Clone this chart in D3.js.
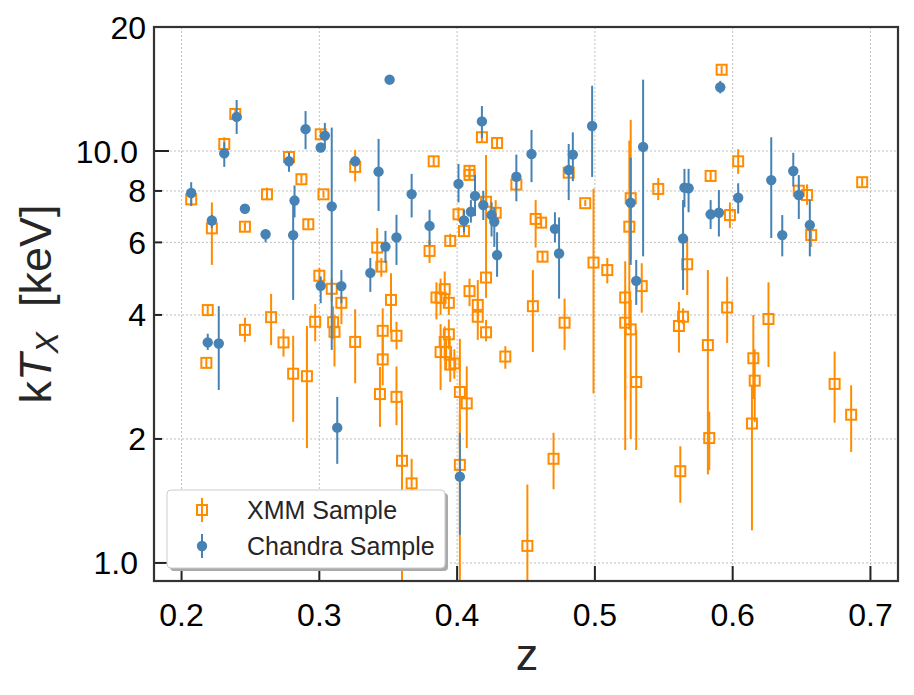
<!DOCTYPE html>
<html><head><meta charset="utf-8">
<script src="https://cdn.jsdelivr.net/npm/d3@7"></script>
<style>body{margin:0;background:#fff;} svg{display:block;font-family:"Liberation Sans",Arial,sans-serif;}</style>
</head><body><svg id="c" width="914" height="695"></svg>
<script>
// XMM sample (orange squares): redshift, kT, error-bar low, error-bar high
const xmmZ  = [0.239,0.231,0.301,0.278,0.287,0.326,0.207,0.262,0.303,0.222,0.246,0.292,0.342,0.345,0.300,0.309,0.310,0.311,0.316,0.352,0.219,0.218,0.246,0.265,0.274,0.281,0.291,0.297,0.326,0.346,0.346,0.344,0.356,0.356,0.360,0.367,0.383,0.380,0.395,0.385,0.388,0.391,0.394,0.394,0.391,0.388,0.392,0.395,0.398,0.402,0.402,0.407,0.401,0.405,0.409,0.409,0.409,0.421,0.415,0.415,0.421,0.418,0.429,0.421,0.428,0.435,0.443,0.451,0.455,0.457,0.461,0.462,0.470,0.478,0.481,0.493,0.499,0.509,0.526,0.525,0.522,0.522,0.526,0.530,0.534,0.546,0.567,0.561,0.564,0.562,0.584,0.583,0.582,0.598,0.596,0.604,0.592,0.615,0.616,0.614,0.626,0.654,0.657,0.648,0.674,0.686,0.694];
const xmmT  = [12.3,10.4,10.98,9.67,8.54,9.15,7.63,7.85,7.85,6.49,6.55,6.64,5.83,5.24,4.98,4.63,3.84,3.64,4.28,4.35,4.11,3.06,3.68,3.95,3.43,2.88,2.84,3.85,3.44,3.66,3.12,2.57,2.53,3.56,1.77,1.56,9.44,5.72,6.05,4.41,4.40,4.62,4.28,3.59,3.44,3.25,3.25,3.03,3.05,2.6,1.73,2.44,7.02,6.39,8.95,8.75,4.57,4.93,4.23,3.96,3.63,10.8,10.46,7.53,7.08,3.17,8.29,1.10,4.2,6.84,6.7,5.54,1.79,3.83,8.86,7.47,5.36,5.14,7.68,6.55,4.41,3.83,3.69,2.75,4.7,8.09,5.31,3.76,3.96,1.67,8.7,2.01,3.38,6.99,4.17,9.44,15.75,3.14,2.77,2.18,3.91,7.82,6.25,8.01,2.72,2.29,8.4];
const xmmLo = [11.9,10.05,10.7,9.4,8.35,8.43,7.4,7.6,7.7,5.29,6.4,6.5,5.1,4.95,4.73,4.3,3.5,3.0,3.8,3.62,3.97,2.98,3.44,3.38,3.17,2.2,1.9,3.45,2.73,3.11,2.7,2.14,2.16,3.3,0.85,1.34,9.2,5.35,5.85,3.9,4.0,4.2,4.0,3.3,3.1,2.63,2.95,2.75,2.8,1.9,0.85,1.9,6.75,6.2,8.5,8.5,4.2,4.4,3.9,3.48,3.45,10.5,10.2,5.44,6.55,2.96,8.1,0.85,3.25,5.83,6.5,5.4,1.51,3.29,8.65,7.35,2.58,4.77,5.44,3.68,1.88,2.49,2.0,1.88,4.05,7.6,4.47,3.24,3.8,1.4,8.5,1.68,1.64,6.5,3.42,8.8,15.4,2.5,2.2,1.2,2.99,7.4,5.85,7.8,2.19,1.86,8.2];
const xmmHi = [12.7,10.8,11.3,9.95,8.75,10.06,7.82,8.15,8.0,7.5,6.7,6.8,6.5,5.5,5.2,4.9,4.2,4.0,4.45,5.05,4.23,3.14,3.94,4.5,3.7,3.56,3.76,4.25,4.13,4.15,3.52,2.99,3.0,3.85,2.49,1.79,9.7,6.08,6.3,4.8,4.9,5.1,4.5,3.9,3.75,3.8,3.5,3.3,3.3,3.5,2.3,3.0,7.3,6.6,9.25,9.0,4.9,5.44,4.86,4.3,3.89,11.1,10.7,9.78,7.6,3.36,8.5,1.55,5.14,7.6,6.9,5.7,2.07,4.38,9.05,7.6,8.1,5.5,11.9,10.6,5.4,4.6,4.35,3.68,5.34,8.6,6.08,4.3,4.15,1.92,8.9,2.33,5.14,7.5,4.95,10.1,16.1,4.0,3.3,2.7,4.8,8.3,6.43,8.2,3.26,2.7,8.6];

// Chandra sample (blue circles)
const chaZ  = [0.351,0.240,0.231,0.290,0.304,0.301,0.278,0.309,0.326,0.343,0.207,0.282,0.281,0.246,0.222,0.261,0.348,0.356,0.301,0.316,0.337,0.219,0.227,0.313,0.402,0.367,0.401,0.418,0.413,0.410,0.419,0.425,0.427,0.429,0.405,0.380,0.443,0.454,0.481,0.484,0.498,0.471,0.474,0.526,0.530,0.535,0.565,0.568,0.564,0.584,0.590,0.591,0.604,0.628,0.636,0.644,0.648,0.656];
const chaT  = [14.9,12.1,9.87,11.3,10.9,10.2,9.44,7.34,9.44,8.91,7.91,7.58,6.25,7.24,6.78,6.28,5.86,6.17,4.71,4.7,5.06,3.43,3.41,2.13,1.62,7.86,8.32,11.8,7.78,7.12,7.39,6.99,6.74,5.59,6.78,6.58,8.66,9.83,8.99,9.8,11.5,6.47,5.64,7.49,4.84,10.23,8.15,8.12,6.13,7.02,7.08,14.28,7.7,8.5,6.25,8.94,7.82,6.61];
const chaLo = [14.5,11.0,9.15,10.1,10.2,10.0,8.9,3.29,9.2,7.15,7.35,6.9,4.35,7.1,6.5,6.0,5.35,5.29,4.27,4.27,4.55,3.29,2.63,1.74,1.17,6.9,7.5,10.75,6.95,6.7,6.8,6.2,5.85,4.95,6.35,5.9,7.55,8.4,7.6,8.45,8.65,6.0,4.38,5.29,4.23,5.55,7.3,7.1,4.6,6.47,6.2,13.8,7.05,6.15,5.55,8.2,6.84,5.55];
const chaHi = [15.3,13.3,10.5,12.5,11.7,10.4,9.9,11.4,9.65,10.7,8.4,8.25,7.6,7.4,7.0,6.45,6.4,7.0,4.96,5.14,5.5,3.6,4.2,2.53,2.07,8.8,9.3,12.86,8.75,7.6,8.0,7.5,7.3,6.35,7.2,7.2,9.8,11.25,10.4,11.1,14.4,7.1,6.9,9.63,5.44,14.9,9.05,9.05,7.6,7.6,8.04,14.8,8.35,10.8,6.99,9.9,8.74,7.6];

const xTicks = [0.2,0.3,0.4,0.5,0.6,0.7];
const yMajorTicks = [1, 10];
const yMajorLabels = ["1.0","10.0"];
const yMinorTicks = [2,4,6,8,20];
const yMinorLabels = ["2","4","6","8","20"];
const seriesNames = ["XMM Sample","Chandra Sample"];

const ORANGE = "#ff8c00", BLUE = "#4682b4";
const L = 154, R = 898, T = 27, B = 581;
const svg = d3.select("#c");
const x = d3.scaleLinear().domain([0.18, 0.72]).range([L, R]);
const y = d3.scaleLog().domain([0.904, 20]).range([B, T]);

svg.append("defs").append("clipPath").attr("id","clip")
  .append("rect").attr("x",L).attr("y",T).attr("width",R-L).attr("height",B-T);

// grid
const grid = svg.append("g").attr("stroke","#b0b0b0").attr("stroke-width",0.8).attr("stroke-dasharray","2,2");
xTicks.forEach(v => grid.append("line").attr("x1",x(v)).attr("x2",x(v)).attr("y1",T).attr("y2",B));
yMajorTicks.concat(yMinorTicks).forEach(v => grid.append("line").attr("x1",L).attr("x2",R).attr("y1",y(v)).attr("y2",y(v)));

// data
const plot = svg.append("g").attr("clip-path","url(#clip)");
const xmm = xmmZ.map((z,i)=>({z, t:xmmT[i], lo:xmmLo[i], hi:xmmHi[i]}));
const cha = chaZ.map((z,i)=>({z, t:chaT[i], lo:chaLo[i], hi:chaHi[i]}));
const yc = v => y(Math.max(v, 0.5));

const gx = plot.append("g");
gx.selectAll("line").data(xmm).join("line")
  .attr("x1",d=>x(d.z)).attr("x2",d=>x(d.z)).attr("y1",d=>yc(d.lo)).attr("y2",d=>yc(d.hi))
  .attr("stroke",ORANGE).attr("stroke-width",2);
gx.selectAll("rect").data(xmm).join("rect")
  .attr("x",d=>x(d.z)-5).attr("y",d=>y(d.t)-5).attr("width",10).attr("height",10)
  .attr("fill","none").attr("stroke",ORANGE).attr("stroke-width",2);

const gc = plot.append("g");
gc.selectAll("line").data(cha).join("line")
  .attr("x1",d=>x(d.z)).attr("x2",d=>x(d.z)).attr("y1",d=>yc(d.lo)).attr("y2",d=>yc(d.hi))
  .attr("stroke",BLUE).attr("stroke-width",2);
gc.selectAll("circle").data(cha).join("circle")
  .attr("cx",d=>x(d.z)).attr("cy",d=>y(d.t)).attr("r",5.2).attr("fill",BLUE);

// axes ticks (inward)
const ax = svg.append("g").attr("stroke","#222").attr("stroke-width",2);
xTicks.forEach(v => ax.append("line").attr("x1",x(v)).attr("x2",x(v)).attr("y1",B).attr("y2",B-15));
yMajorTicks.forEach(v => ax.append("line").attr("x1",L).attr("x2",L+15).attr("y1",y(v)).attr("y2",y(v)));
yMinorTicks.forEach(v => ax.append("line").attr("x1",L).attr("x2",L+8).attr("y1",y(v)).attr("y2",y(v)));

// spines
svg.append("rect").attr("x",L).attr("y",T).attr("width",R-L).attr("height",B-T)
  .attr("fill","none").attr("stroke","#333").attr("stroke-width",2.2);

// tick labels
const lab = svg.append("g").attr("font-size",32).attr("fill","#000");
xTicks.forEach(v => lab.append("text").attr("x",x(v)).attr("y",626).attr("text-anchor","middle").text(d3.format(".1f")(v)));
yMajorTicks.forEach((v,i) => lab.append("text").attr("x",138).attr("y",y(v)).attr("dy","0.36em").attr("text-anchor","end").text(yMajorLabels[i]));
yMinorTicks.forEach((v,i) => lab.append("text").attr("x",146).attr("y",y(v)).attr("dy","0.36em").attr("text-anchor","end").text(yMinorLabels[i]));

// axis labels
svg.append("text").attr("x",527).attr("y",670).attr("text-anchor","middle").attr("font-size",45).attr("fill","#262626").text("z");
const yl = svg.append("text").attr("transform","translate(51,304) rotate(-90)").attr("text-anchor","middle")
  .attr("font-size",45).attr("fill","#262626").attr("xml:space","preserve");
yl.append("tspan").text("k");
yl.append("tspan").attr("font-style","italic").text("T");
yl.append("tspan").attr("font-style","italic").attr("font-size",32).attr("dy",7).text("X");
yl.append("tspan").attr("dy",-7).text("\u00a0\u00a0[keV]");

// legend
const lg = svg.append("g");
lg.append("rect").attr("x",170).attr("y",493).attr("width",278).attr("height",78).attr("rx",4).attr("fill","#aaaaaa");
lg.append("rect").attr("x",167).attr("y",490).attr("width",278).attr("height",78).attr("rx",4)
  .attr("fill","#fff").attr("stroke","#cccccc").attr("stroke-width",1);
const rows = [510, 546];
lg.append("line").attr("x1",202).attr("x2",202).attr("y1",rows[0]-12).attr("y2",rows[0]+12).attr("stroke",ORANGE).attr("stroke-width",2);
lg.append("rect").attr("x",197).attr("y",rows[0]-5).attr("width",10).attr("height",10).attr("fill","none").attr("stroke",ORANGE).attr("stroke-width",2);
lg.append("line").attr("x1",202).attr("x2",202).attr("y1",rows[1]-12).attr("y2",rows[1]+12).attr("stroke",BLUE).attr("stroke-width",2);
lg.append("circle").attr("cx",202).attr("cy",rows[1]).attr("r",5.2).attr("fill",BLUE);
seriesNames.forEach((n,i) => lg.append("text").attr("x",247).attr("y",rows[i]).attr("dy","0.36em")
  .attr("font-size",25).attr("fill","#262626").text(n));
</script></body></html>
